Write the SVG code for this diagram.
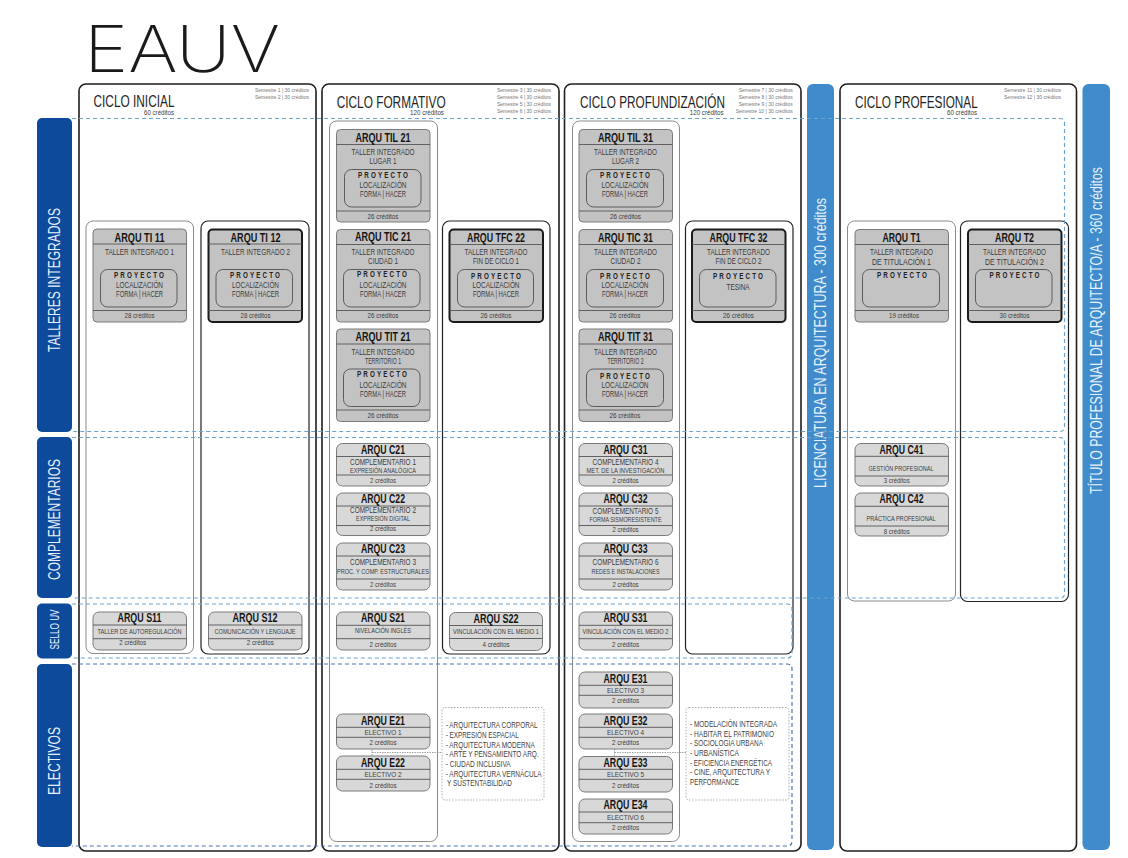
<svg xmlns="http://www.w3.org/2000/svg" width="1128" height="858" viewBox="0 0 1128 858">
<style>
text{font-family:"Liberation Sans Narrow","Liberation Sans",Arial,sans-serif;fill:#3c3c3c}
.m{text-anchor:middle}.e{text-anchor:end}
.panel{fill:#fff;stroke:#1e1e1e;stroke-width:1.6}
.boxl{fill:#fff;stroke:#8a8a8a;stroke-width:1}
.boxd{fill:#fff;stroke:#222;stroke-width:1.2}
.band{fill:#0d4a9b}.bar{fill:#3f8bcb}
.nd{fill:#c4c3c3;stroke:#7a7a7a;stroke-width:1}
.ndk{fill:#c4c3c3;stroke:#1a1a1a;stroke-width:2}
.nl{fill:#d8d8d9;stroke:#7a7a7a;stroke-width:1}
.dv{fill:none;stroke:#555;stroke-width:.9}
.in{fill:none;stroke:#5c5c5c;stroke-width:1}
.note{fill:#fff;stroke:#aaa;stroke-width:1;stroke-dasharray:1.5 1.5}
.dl{fill:none;stroke:#6ba3cf;stroke-width:1.2;stroke-dasharray:4 3}
.dk{fill:none;stroke:#4a76b5;stroke-width:1.2;stroke-dasharray:4 3}
.lk{fill:none;stroke:#8a8a8a;stroke-width:.8;stroke-dasharray:1.5 1}
.t{font-size:12px;font-weight:700;fill:#141414}
.s{font-size:9px}.x{font-size:8px}.c{font-size:8px}
.p{font-size:9px;font-weight:700;fill:#222;letter-spacing:3px}
.h{font-size:17px;fill:#1e1e1e}.hc{font-size:8px}.sm{font-size:5px;fill:#777}
.n{font-size:9px;fill:#444}
.side{font-size:17px;fill:#e8f0fa}
.bt{font-size:16px;fill:#e8f2fb}
.logo{font-family:Inter,"Liberation Sans",sans-serif;font-weight:200;font-size:64px;fill:#1a1a1a}
</style>

<text id="logo" class="logo" x="84" y="72" textLength="196" lengthAdjust="spacingAndGlyphs">EAUV</text>

<g id="ciclo-inicial"><rect class="panel" x="79" y="84" width="237" height="767" rx="7"/>
<text class="h" x="93.5" y="107" textLength="81" lengthAdjust="spacingAndGlyphs">CICLO INICIAL</text>
<text class="hc e" x="174" y="114.7" textLength="30" lengthAdjust="spacingAndGlyphs">60 créditos</text>
<text class="sm e" x="309" y="92" textLength="54" lengthAdjust="spacingAndGlyphs">Semestre 1 | 30 créditos</text>
<text class="sm e" x="309" y="99" textLength="54" lengthAdjust="spacingAndGlyphs">Semestre 2 | 30 créditos</text></g>
<g id="ciclo-formativo"><rect class="panel" x="322" y="84" width="237" height="767" rx="7"/>
<text class="h" x="336.7" y="107.7" textLength="109" lengthAdjust="spacingAndGlyphs">CICLO FORMATIVO</text>
<text class="hc e" x="444" y="114.7" textLength="34" lengthAdjust="spacingAndGlyphs">120 créditos</text>
<text class="sm e" x="551" y="91.7" textLength="54" lengthAdjust="spacingAndGlyphs">Semestre 3 | 30 créditos</text>
<text class="sm e" x="551" y="99" textLength="54" lengthAdjust="spacingAndGlyphs">Semestre 4 | 30 créditos</text>
<text class="sm e" x="551" y="106" textLength="54" lengthAdjust="spacingAndGlyphs">Semestre 5 | 30 créditos</text>
<text class="sm e" x="551" y="113" textLength="54" lengthAdjust="spacingAndGlyphs">Semestre 6 | 30 créditos</text></g>
<g id="ciclo-profundizacion"><rect class="panel" x="564.5" y="84" width="236.5" height="767" rx="7"/>
<text class="h" x="580" y="107.7" textLength="145" lengthAdjust="spacingAndGlyphs">CICLO PROFUNDIZACIÓN</text>
<text class="hc e" x="723.7" y="114.7" textLength="34" lengthAdjust="spacingAndGlyphs">120 créditos</text>
<text class="sm e" x="792.7" y="91.7" textLength="54" lengthAdjust="spacingAndGlyphs">Semestre 7 | 30 créditos</text>
<text class="sm e" x="792.7" y="99" textLength="54" lengthAdjust="spacingAndGlyphs">Semestre 8 | 30 créditos</text>
<text class="sm e" x="792.7" y="106" textLength="54" lengthAdjust="spacingAndGlyphs">Semestre 9 | 30 créditos</text>
<text class="sm e" x="792.7" y="113" textLength="57" lengthAdjust="spacingAndGlyphs">Semestre 10 | 30 créditos</text></g>
<g id="ciclo-profesional"><rect class="panel" x="840" y="84" width="236.5" height="767" rx="7"/>
<text class="h" x="855" y="107.7" textLength="122.7" lengthAdjust="spacingAndGlyphs">CICLO PROFESIONAL</text>
<text class="hc e" x="977" y="114.7" textLength="30" lengthAdjust="spacingAndGlyphs">60 créditos</text>
<text class="sm e" x="1061" y="92" textLength="57" lengthAdjust="spacingAndGlyphs">Semestre 11 | 30 créditos</text>
<text class="sm e" x="1061" y="99" textLength="57" lengthAdjust="spacingAndGlyphs">Semestre 12 | 30 créditos</text></g>

<g id="licenciatura"><rect class="bar" x="807" y="84" width="27" height="766" rx="6"/>
<text class="bt" transform="translate(826 488) rotate(-90)" textLength="290" lengthAdjust="spacingAndGlyphs">LICENCIATURA EN ARQUITECTURA - 300 créditos</text></g>
<g id="titulo"><rect class="bar" x="1082.5" y="84" width="27.5" height="766" rx="6"/>
<text class="bt" transform="translate(1101.5 494) rotate(-90)" textLength="327" lengthAdjust="spacingAndGlyphs">TÍTULO PROFESIONAL DE ARQUITECTO/A - 360 créditos</text></g>

<g id="talleres-integrados"><rect class="band" x="37" y="118" width="35" height="314" rx="5"/>
<text class="side" transform="translate(60 352) rotate(-90)" textLength="144" lengthAdjust="spacingAndGlyphs">TALLERES INTEGRADOS</text></g>
<g id="complementarios"><rect class="band" x="37" y="437" width="35" height="161" rx="5"/>
<text class="side" transform="translate(60 580) rotate(-90)" textLength="121" lengthAdjust="spacingAndGlyphs">COMPLEMENTARIOS</text></g>
<g id="sello-uv"><rect class="band" x="37" y="603.5" width="35" height="55" rx="5"/>
<text class="side" style="font-size:12px" transform="translate(58.5 649.5) rotate(-90)" textLength="40" lengthAdjust="spacingAndGlyphs">SELLO UV</text></g>
<g id="electivos"><rect class="band" x="37" y="664" width="35" height="183" rx="5"/>
<text class="side" transform="translate(60 795) rotate(-90)" textLength="68" lengthAdjust="spacingAndGlyphs">ELECTIVOS</text></g>

<g id="contenedores">
<rect class="boxl" x="86" y="221" width="107.5" height="432.5" rx="7"/>
<rect class="boxd" x="201" y="221" width="108" height="433" rx="7"/>
<rect class="boxl" x="329.5" y="121" width="108" height="720.5" rx="7"/>
<rect class="boxd" x="442.5" y="221" width="107.5" height="433" rx="7"/>
<rect class="boxl" x="572.5" y="121" width="107" height="720.5" rx="7"/>
<rect class="boxd" x="685.5" y="221" width="107.5" height="433" rx="7"/>
<rect class="boxl" x="847.5" y="221" width="108" height="380" rx="7"/>
<rect class="boxd" x="960.5" y="221" width="108" height="380.5" rx="7"/>
</g>

<g id="conectores">
<path class="dl" d="M72 118.500H1060q4.500 0 4.500 4.500V427q0 4.500-4.500 4.500H72"/>
<path class="dl" d="M72 437.500H1060q4.500 0 4.500 4.500V593.500q0 4.500-4.500 4.500H72"/>
<path class="dl" d="M72 604H787q5 0 5 5V653q0 5-5 5H72"/>
<path class="dk" d="M72 664H787q5 0 5 5V841q0 5-5 5H72"/>
<path class="lk" d="M372 749V756M372 752.500H442"/>
<path class="lk" d="M614.500 749V756M614.500 752.500H686"/>
</g>

<g id="arqu-ti-11"><rect class="nd" x="93" y="229" width="93.500" height="93" rx="4"/><path class="dv" d="M93 244H186.500M93 310.500H186.500"/><rect class="in" x="100.500" y="269.500" width="76.500" height="37.500" rx="7"/>
<text class="t m" x="139.500" y="242" textLength="50" lengthAdjust="spacingAndGlyphs">ARQU TI 11</text><text class="s m" x="139.500" y="255" textLength="69" lengthAdjust="spacingAndGlyphs">TALLER INTEGRADO 1</text><text class="p m" x="140" y="277.500" textLength="52" lengthAdjust="spacingAndGlyphs">PROYECTO</text><text class="s m" x="139.500" y="288" textLength="47" lengthAdjust="spacingAndGlyphs">LOCALIZACIÓN</text><text class="s m" x="139.500" y="297" textLength="47" lengthAdjust="spacingAndGlyphs">FORMA | HACER</text><text class="c m" x="139.500" y="318" textLength="30" lengthAdjust="spacingAndGlyphs">28 créditos</text></g>
<g id="arqu-ti-12"><rect class="ndk" x="208.500" y="229.500" width="93.500" height="92.500" rx="4"/><path class="dv" d="M208 244H302M208 310.500H302"/><rect class="in" x="216" y="269.500" width="76.500" height="37.500" rx="7"/>
<text class="t m" x="255.500" y="242" textLength="50" lengthAdjust="spacingAndGlyphs">ARQU TI 12</text><text class="s m" x="255.500" y="255" textLength="69" lengthAdjust="spacingAndGlyphs">TALLER INTEGRADO 2</text><text class="p m" x="256" y="277.500" textLength="52" lengthAdjust="spacingAndGlyphs">PROYECTO</text><text class="s m" x="255.500" y="288" textLength="47" lengthAdjust="spacingAndGlyphs">LOCALIZACIÓN</text><text class="s m" x="255.500" y="297" textLength="47" lengthAdjust="spacingAndGlyphs">FORMA | HACER</text><text class="c m" x="255.500" y="318" textLength="30" lengthAdjust="spacingAndGlyphs">28 créditos</text></g>

<g id="arqu-til-21"><rect class="nd" x="336.500" y="129.500" width="93.500" height="92.500" rx="4"/><path class="dv" d="M336.500 144.500H430M336.500 211H430"/><rect class="in" x="344.500" y="169.500" width="76.500" height="37.500" rx="7"/>
<text class="t m" x="383" y="141.500" textLength="55" lengthAdjust="spacingAndGlyphs">ARQU TIL 21</text><text class="s m" x="383" y="155" textLength="63" lengthAdjust="spacingAndGlyphs">TALLER INTEGRADO</text><text class="s m" x="383" y="164" textLength="27" lengthAdjust="spacingAndGlyphs">LUGAR 1</text><text class="p m" x="384" y="177.500" textLength="52" lengthAdjust="spacingAndGlyphs">PROYECTO</text><text class="s m" x="383" y="188" textLength="47" lengthAdjust="spacingAndGlyphs">LOCALIZACIÓN</text><text class="s m" x="383" y="197" textLength="46" lengthAdjust="spacingAndGlyphs">FORMA | HACER</text><text class="c m" x="383" y="218.500" textLength="31" lengthAdjust="spacingAndGlyphs">26 créditos</text></g>
<g id="arqu-tic-21"><rect class="nd" x="336.500" y="229.500" width="93.500" height="92.500" rx="4"/><path class="dv" d="M336.500 244.500H430M336.500 310.500H430"/><rect class="in" x="343.500" y="269.500" width="76.500" height="37.500" rx="7"/>
<text class="t m" x="383" y="241" textLength="56" lengthAdjust="spacingAndGlyphs">ARQU TIC 21</text><text class="s m" x="383" y="255" textLength="63" lengthAdjust="spacingAndGlyphs">TALLER INTEGRADO</text><text class="s m" x="383" y="264" textLength="30" lengthAdjust="spacingAndGlyphs">CIUDAD 1</text><text class="p m" x="383" y="277" textLength="52" lengthAdjust="spacingAndGlyphs">PROYECTO</text><text class="s m" x="383" y="288" textLength="47" lengthAdjust="spacingAndGlyphs">LOCALIZACIÓN</text><text class="s m" x="383" y="297" textLength="46" lengthAdjust="spacingAndGlyphs">FORMA | HACER</text><text class="c m" x="383" y="318" textLength="31" lengthAdjust="spacingAndGlyphs">26 créditos</text></g>
<g id="arqu-tit-21"><rect class="nd" x="336.500" y="329" width="93.500" height="92.500" rx="4"/><path class="dv" d="M336.500 344H430M336.500 410H430"/><rect class="in" x="343.500" y="369" width="76.500" height="37.500" rx="7"/>
<text class="t m" x="383" y="341" textLength="55" lengthAdjust="spacingAndGlyphs">ARQU TIT 21</text><text class="s m" x="383" y="354.500" textLength="63" lengthAdjust="spacingAndGlyphs">TALLER INTEGRADO</text><text class="s m" x="383" y="363.500" textLength="36" lengthAdjust="spacingAndGlyphs">TERRITORIO 1</text><text class="p m" x="383" y="376.500" textLength="52" lengthAdjust="spacingAndGlyphs">PROYECTO</text><text class="s m" x="383" y="387.500" textLength="47" lengthAdjust="spacingAndGlyphs">LOCALIZACIÓN</text><text class="s m" x="383" y="396.500" textLength="46" lengthAdjust="spacingAndGlyphs">FORMA | HACER</text><text class="c m" x="383" y="418" textLength="31" lengthAdjust="spacingAndGlyphs">26 créditos</text></g>
<g id="arqu-tfc-22"><rect class="ndk" x="449.500" y="229.500" width="93.500" height="92.500" rx="4"/><path class="dv" d="M449.500 244.500H543M449.500 310.500H543"/><rect class="in" x="457.500" y="269.500" width="76" height="37.500" rx="7"/>
<text class="t m" x="496" y="242" textLength="58" lengthAdjust="spacingAndGlyphs">ARQU TFC 22</text><text class="s m" x="496" y="255" textLength="63" lengthAdjust="spacingAndGlyphs">TALLER INTEGRADO</text><text class="s m" x="496" y="264" textLength="46" lengthAdjust="spacingAndGlyphs">FIN DE CICLO 1</text><text class="p m" x="497" y="279" textLength="52" lengthAdjust="spacingAndGlyphs">PROYECTO</text><text class="s m" x="496" y="288" textLength="47" lengthAdjust="spacingAndGlyphs">LOCALIZACIÓN</text><text class="s m" x="496" y="297" textLength="46" lengthAdjust="spacingAndGlyphs">FORMA | HACER</text><text class="c m" x="496" y="318" textLength="31" lengthAdjust="spacingAndGlyphs">26 créditos</text></g>

<g id="arqu-til-31"><rect class="nd" x="579" y="129.500" width="93.500" height="92.500" rx="4"/><path class="dv" d="M579 144.500H672.500M579 211H672.500"/><rect class="in" x="586.500" y="169.500" width="77" height="37.500" rx="7"/>
<text class="t m" x="625.500" y="141.500" textLength="55" lengthAdjust="spacingAndGlyphs">ARQU TIL 31</text><text class="s m" x="625.500" y="155" textLength="63" lengthAdjust="spacingAndGlyphs">TALLER INTEGRADO</text><text class="s m" x="625.500" y="164" textLength="27" lengthAdjust="spacingAndGlyphs">LUGAR 2</text><text class="p m" x="626" y="177.500" textLength="52" lengthAdjust="spacingAndGlyphs">PROYECTO</text><text class="s m" x="625" y="188" textLength="47" lengthAdjust="spacingAndGlyphs">LOCALIZACIÓN</text><text class="s m" x="625" y="197" textLength="46" lengthAdjust="spacingAndGlyphs">FORMA | HACER</text><text class="c m" x="625.500" y="218.500" textLength="31" lengthAdjust="spacingAndGlyphs">26 créditos</text></g>
<g id="arqu-tic-31"><rect class="nd" x="579" y="229.500" width="93.500" height="92.500" rx="4"/><path class="dv" d="M579 244.500H672.500M579 310.500H672.500"/><rect class="in" x="586.500" y="269.500" width="77" height="37.500" rx="7"/>
<text class="t m" x="625.500" y="241.500" textLength="55" lengthAdjust="spacingAndGlyphs">ARQU TIC 31</text><text class="s m" x="625.500" y="255" textLength="63" lengthAdjust="spacingAndGlyphs">TALLER INTEGRADO</text><text class="s m" x="625.500" y="264" textLength="30" lengthAdjust="spacingAndGlyphs">CIUDAD 2</text><text class="p m" x="626" y="279" textLength="52" lengthAdjust="spacingAndGlyphs">PROYECTO</text><text class="s m" x="625" y="288" textLength="47" lengthAdjust="spacingAndGlyphs">LOCALIZACIÓN</text><text class="s m" x="625" y="297" textLength="46" lengthAdjust="spacingAndGlyphs">FORMA | HACER</text><text class="c m" x="625" y="318" textLength="31" lengthAdjust="spacingAndGlyphs">26 créditos</text></g>
<g id="arqu-tit-31"><rect class="nd" x="579" y="329" width="93.500" height="92.500" rx="4"/><path class="dv" d="M579 344H672.500M579 410H672.500"/><rect class="in" x="586.500" y="369" width="77" height="37.500" rx="7"/>
<text class="t m" x="625.500" y="341" textLength="55" lengthAdjust="spacingAndGlyphs">ARQU TIT 31</text><text class="s m" x="625.500" y="354.500" textLength="63" lengthAdjust="spacingAndGlyphs">TALLER INTEGRADO</text><text class="s m" x="625.500" y="363.500" textLength="36" lengthAdjust="spacingAndGlyphs">TERRITORIO 2</text><text class="p m" x="626" y="378.500" textLength="52" lengthAdjust="spacingAndGlyphs">PROYECTO</text><text class="s m" x="625" y="387.500" textLength="47" lengthAdjust="spacingAndGlyphs">LOCALIZACIÓN</text><text class="s m" x="625" y="396.500" textLength="46" lengthAdjust="spacingAndGlyphs">FORMA | HACER</text><text class="c m" x="625" y="418" textLength="31" lengthAdjust="spacingAndGlyphs">26 créditos</text></g>
<g id="arqu-tfc-32"><rect class="ndk" x="692" y="229.500" width="93.500" height="92.500" rx="4"/><path class="dv" d="M692 244.500H785.500M692 310.500H785.500"/><rect class="in" x="699.500" y="269.500" width="76.500" height="37.500" rx="7"/>
<text class="t m" x="738.500" y="242" textLength="58" lengthAdjust="spacingAndGlyphs">ARQU TFC 32</text><text class="s m" x="738.500" y="255" textLength="63" lengthAdjust="spacingAndGlyphs">TALLER INTEGRADO</text><text class="s m" x="738.500" y="264" textLength="46" lengthAdjust="spacingAndGlyphs">FIN DE CICLO 2</text><text class="p m" x="739" y="279" textLength="52" lengthAdjust="spacingAndGlyphs">PROYECTO</text><text class="s m" x="738" y="290" textLength="23" lengthAdjust="spacingAndGlyphs">TESINA</text><text class="c m" x="738.500" y="318" textLength="31" lengthAdjust="spacingAndGlyphs">26 créditos</text></g>

<g id="arqu-t1"><rect class="nd" x="855" y="229.500" width="93.500" height="92.500" rx="4"/><path class="dv" d="M855 244.500H948.500M855 310.500H948.500"/><rect class="in" x="862.500" y="269.500" width="77" height="37.500" rx="7"/>
<text class="t m" x="901.500" y="242" textLength="38" lengthAdjust="spacingAndGlyphs">ARQU T1</text><text class="s m" x="901.500" y="255" textLength="63" lengthAdjust="spacingAndGlyphs">TALLER INTEGRADO</text><text class="s m" x="901.500" y="264.500" textLength="59" lengthAdjust="spacingAndGlyphs">DE TITULACIÓN 1</text><text class="p m" x="903" y="277.500" textLength="52" lengthAdjust="spacingAndGlyphs">PROYECTO</text><text class="c m" x="904" y="318" textLength="30" lengthAdjust="spacingAndGlyphs">19 créditos</text></g>
<g id="arqu-t2"><rect class="ndk" x="968" y="229.500" width="93.500" height="92.500" rx="4"/><path class="dv" d="M968 244.500H1061.500M968 310.500H1061.500"/><rect class="in" x="975.500" y="269.500" width="76.500" height="37.500" rx="7"/>
<text class="t m" x="1014.500" y="242" textLength="39" lengthAdjust="spacingAndGlyphs">ARQU T2</text><text class="s m" x="1014.500" y="255" textLength="63" lengthAdjust="spacingAndGlyphs">TALLER INTEGRADO</text><text class="s m" x="1014.500" y="264.500" textLength="59" lengthAdjust="spacingAndGlyphs">DE TITULACIÓN 2</text><text class="p m" x="1015.500" y="277.500" textLength="52" lengthAdjust="spacingAndGlyphs">PROYECTO</text><text class="c m" x="1014.500" y="318" textLength="30" lengthAdjust="spacingAndGlyphs">30 créditos</text></g>

<g id="arqu-c21"><rect class="nl" x="336.500" y="443.500" width="93.500" height="42.500" rx="6"/><path class="dv" d="M336.500 456.500H430M336.500 475H430"/>
<text class="t m" x="383" y="453.700" textLength="44" lengthAdjust="spacingAndGlyphs">ARQU C21</text><text class="s m" x="383" y="464.500" textLength="66" lengthAdjust="spacingAndGlyphs">COMPLEMENTARIO 1</text><text class="x m" x="383" y="472.500" textLength="66" lengthAdjust="spacingAndGlyphs">EXPRESIÓN ANALÓGICA</text><text class="c m" x="383" y="483" textLength="26" lengthAdjust="spacingAndGlyphs">2 créditos</text></g>
<g id="arqu-c22"><rect class="nl" x="336.500" y="493" width="93.500" height="42.500" rx="6"/><path class="dv" d="M336.500 506H430M336.500 525.500H430"/>
<text class="t m" x="383" y="503.300" textLength="44" lengthAdjust="spacingAndGlyphs">ARQU C22</text><text class="s m" x="383" y="512.500" textLength="66" lengthAdjust="spacingAndGlyphs">COMPLEMENTARIO 2</text><text class="x m" x="383" y="520.700" textLength="54" lengthAdjust="spacingAndGlyphs">EXPRESIÓN DIGITAL</text><text class="c m" x="383" y="531" textLength="26" lengthAdjust="spacingAndGlyphs">2 créditos</text></g>
<g id="arqu-c23"><rect class="nl" x="336.500" y="543" width="93.500" height="47" rx="6"/><path class="dv" d="M336.500 556H430M336.500 579H430"/>
<text class="t m" x="383" y="552.700" textLength="44" lengthAdjust="spacingAndGlyphs">ARQU C23</text><text class="s m" x="383" y="564.700" textLength="66" lengthAdjust="spacingAndGlyphs">COMPLEMENTARIO 3</text><text class="x m" x="383" y="574" textLength="92" lengthAdjust="spacingAndGlyphs">PROC. Y COMP. ESTRUCTURALES</text><text class="c m" x="383" y="586.700" textLength="26" lengthAdjust="spacingAndGlyphs">2 créditos</text></g>
<g id="arqu-c31"><rect class="nl" x="579" y="443.500" width="93.500" height="42.500" rx="6"/><path class="dv" d="M579 456.500H672.500M579 475H672.500"/>
<text class="t m" x="625.500" y="453.700" textLength="44" lengthAdjust="spacingAndGlyphs">ARQU C31</text><text class="s m" x="625.500" y="464.500" textLength="66" lengthAdjust="spacingAndGlyphs">COMPLEMENTARIO 4</text><text class="x m" x="625.500" y="472.500" textLength="78" lengthAdjust="spacingAndGlyphs">MET. DE LA INVESTIGACIÓN</text><text class="c m" x="625.500" y="483" textLength="26" lengthAdjust="spacingAndGlyphs">2 créditos</text></g>
<g id="arqu-c32"><rect class="nl" x="579" y="493" width="93.500" height="42.500" rx="6"/><path class="dv" d="M579 506H672.500M579 525.500H672.500"/>
<text class="t m" x="625.500" y="503.300" textLength="44" lengthAdjust="spacingAndGlyphs">ARQU C32</text><text class="s m" x="625.500" y="514" textLength="66" lengthAdjust="spacingAndGlyphs">COMPLEMENTARIO 5</text><text class="x m" x="625.500" y="522" textLength="72" lengthAdjust="spacingAndGlyphs">FORMA SISMORESISTENTE</text><text class="c m" x="625.500" y="532" textLength="26" lengthAdjust="spacingAndGlyphs">2 créditos</text></g>
<g id="arqu-c33"><rect class="nl" x="579" y="543" width="93.500" height="47" rx="6"/><path class="dv" d="M579 556H672.500M579 579H672.500"/>
<text class="t m" x="625.500" y="552.700" textLength="44" lengthAdjust="spacingAndGlyphs">ARQU C33</text><text class="s m" x="625.500" y="564.700" textLength="66" lengthAdjust="spacingAndGlyphs">COMPLEMENTARIO 6</text><text class="x m" x="625.500" y="574" textLength="68" lengthAdjust="spacingAndGlyphs">REDES E INSTALACIONES</text><text class="c m" x="625.500" y="586.700" textLength="26" lengthAdjust="spacingAndGlyphs">2 créditos</text></g>
<g id="arqu-c41"><rect class="nl" x="855" y="443.500" width="93.500" height="42.500" rx="6"/><path class="dv" d="M855 456.300H948.500M855 476H948.500"/>
<text class="t m" x="901.500" y="453.700" textLength="44" lengthAdjust="spacingAndGlyphs">ARQU C41</text><text class="x m" x="901" y="471.300" textLength="65" lengthAdjust="spacingAndGlyphs">GESTIÓN PROFESIONAL</text><text class="c m" x="896.700" y="483" textLength="26" lengthAdjust="spacingAndGlyphs">3 créditos</text></g>
<g id="arqu-c42"><rect class="nl" x="855" y="493" width="93.500" height="43" rx="6"/><path class="dv" d="M855 506.300H948.500M855 526H948.500"/>
<text class="t m" x="901.500" y="503.300" textLength="44" lengthAdjust="spacingAndGlyphs">ARQU C42</text><text class="x m" x="901" y="521.300" textLength="69" lengthAdjust="spacingAndGlyphs">PRÁCTICA PROFESIONAL</text><text class="c m" x="896.700" y="534" textLength="26" lengthAdjust="spacingAndGlyphs">8 créditos</text></g>

<g id="arqu-s11"><rect class="nl" x="93" y="612" width="93.500" height="38" rx="6"/><path class="dv" d="M93 625H186.500M93 638.700H186.500"/>
<text class="t m" x="139.500" y="622.300" textLength="44" lengthAdjust="spacingAndGlyphs">ARQU S11</text><text class="x m" x="139.500" y="633.700" textLength="84" lengthAdjust="spacingAndGlyphs">TALLER DE AUTOREGULACIÓN</text><text class="c m" x="132.700" y="645" textLength="27" lengthAdjust="spacingAndGlyphs">2 créditos</text></g>
<g id="arqu-s12"><rect class="nl" x="208.500" y="612" width="93.500" height="38" rx="6"/><path class="dv" d="M208.500 625H302M208.500 638.700H302"/>
<text class="t m" x="255" y="622.300" textLength="45" lengthAdjust="spacingAndGlyphs">ARQU S12</text><text class="x m" x="255" y="633.700" textLength="81" lengthAdjust="spacingAndGlyphs">COMUNICACIÓN Y LENGUAJE</text><text class="c m" x="260.300" y="645" textLength="27" lengthAdjust="spacingAndGlyphs">2 créditos</text></g>
<g id="arqu-s21"><rect class="nl" x="336.500" y="612" width="93.500" height="38" rx="6"/><path class="dv" d="M336.500 625.300H430M336.500 638.700H430"/>
<text class="t m" x="383" y="622.300" textLength="44" lengthAdjust="spacingAndGlyphs">ARQU S21</text><text class="x m" x="383" y="633.300" textLength="56" lengthAdjust="spacingAndGlyphs">NIVELACIÓN INGLÉS</text><text class="c m" x="383" y="646.700" textLength="27" lengthAdjust="spacingAndGlyphs">2 créditos</text></g>
<g id="arqu-s22"><rect class="nl" x="449.500" y="612.500" width="93" height="38" rx="6"/><path class="dv" d="M449.500 625.500H542.500M449.500 638.500H542.500"/>
<text class="t m" x="496" y="623" textLength="45" lengthAdjust="spacingAndGlyphs">ARQU S22</text><text class="x m" x="496" y="634" textLength="86" lengthAdjust="spacingAndGlyphs">VINCULACIÓN CON EL MEDIO 1</text><text class="c m" x="496" y="647" textLength="27" lengthAdjust="spacingAndGlyphs">4 créditos</text></g>
<g id="arqu-s31"><rect class="nl" x="579" y="612" width="93.500" height="38" rx="6"/><path class="dv" d="M579 625.300H672.500M579 638.700H672.500"/>
<text class="t m" x="625.500" y="622.300" textLength="44" lengthAdjust="spacingAndGlyphs">ARQU S31</text><text class="x m" x="625.500" y="634" textLength="86" lengthAdjust="spacingAndGlyphs">VINCULACIÓN CON EL MEDIO 2</text><text class="c m" x="625.500" y="646.700" textLength="27" lengthAdjust="spacingAndGlyphs">2 créditos</text></g>

<g id="arqu-e21"><rect class="nl" x="336.500" y="714" width="93.500" height="35" rx="6"/><path class="dv" d="M336.500 727.300H430M336.500 737.300H430"/>
<text class="t m" x="383" y="724.700" textLength="44" lengthAdjust="spacingAndGlyphs">ARQU E21</text><text class="x m" x="383" y="735" textLength="37" lengthAdjust="spacingAndGlyphs">ELECTIVO 1</text><text class="c m" x="383" y="745" textLength="27" lengthAdjust="spacingAndGlyphs">2 créditos</text></g>
<g id="arqu-e22"><rect class="nl" x="336.500" y="756" width="93.500" height="35" rx="6"/><path class="dv" d="M336.500 769.300H430M336.500 779.300H430"/>
<text class="t m" x="383" y="766.700" textLength="44" lengthAdjust="spacingAndGlyphs">ARQU E22</text><text class="x m" x="383" y="777.300" textLength="37" lengthAdjust="spacingAndGlyphs">ELECTIVO 2</text><text class="c m" x="383" y="787.700" textLength="27" lengthAdjust="spacingAndGlyphs">2 créditos</text></g>
<g id="arqu-e31"><rect class="nl" x="579" y="672" width="93.500" height="36" rx="6"/><path class="dv" d="M579 685.300H672.500M579 695.300H672.500"/>
<text class="t m" x="625.500" y="683" textLength="44" lengthAdjust="spacingAndGlyphs">ARQU E31</text><text class="x m" x="625.500" y="693" textLength="37" lengthAdjust="spacingAndGlyphs">ELECTIVO 3</text><text class="c m" x="625.500" y="703" textLength="27" lengthAdjust="spacingAndGlyphs">2 créditos</text></g>
<g id="arqu-e32"><rect class="nl" x="579" y="714" width="93.500" height="35" rx="6"/><path class="dv" d="M579 727.300H672.500M579 737.300H672.500"/>
<text class="t m" x="625.500" y="724.700" textLength="44" lengthAdjust="spacingAndGlyphs">ARQU E32</text><text class="x m" x="625.500" y="735" textLength="37" lengthAdjust="spacingAndGlyphs">ELECTIVO 4</text><text class="c m" x="625.500" y="745" textLength="27" lengthAdjust="spacingAndGlyphs">2 créditos</text></g>
<g id="arqu-e33"><rect class="nl" x="579" y="756.500" width="93.500" height="35.500" rx="6"/><path class="dv" d="M579 769.300H672.500M579 779.300H672.500"/>
<text class="t m" x="625.500" y="767" textLength="44" lengthAdjust="spacingAndGlyphs">ARQU E33</text><text class="x m" x="625.500" y="777.300" textLength="37" lengthAdjust="spacingAndGlyphs">ELECTIVO 5</text><text class="c m" x="625.500" y="787.700" textLength="27" lengthAdjust="spacingAndGlyphs">2 créditos</text></g>
<g id="arqu-e34"><rect class="nl" x="579" y="799" width="93.500" height="35" rx="6"/><path class="dv" d="M579 812H672.500M579 822.700H672.500"/>
<text class="t m" x="625.500" y="809.300" textLength="44" lengthAdjust="spacingAndGlyphs">ARQU E34</text><text class="x m" x="625.500" y="819.700" textLength="37" lengthAdjust="spacingAndGlyphs">ELECTIVO 6</text><text class="c m" x="625.500" y="830" textLength="27" lengthAdjust="spacingAndGlyphs">2 créditos</text></g>

<g id="lista-electivos-1"><rect class="note" x="442" y="707.500" width="102" height="92.500" rx="3"/>
<text class="n" x="445.700" y="728.300" textLength="92" lengthAdjust="spacingAndGlyphs">- ARQUITECTURA CORPORAL</text>
<text class="n" x="445.700" y="738" textLength="73" lengthAdjust="spacingAndGlyphs">- EXPRESIÓN ESPACIAL</text>
<text class="n" x="445.700" y="747.700" textLength="89" lengthAdjust="spacingAndGlyphs">- ARQUITECTURA MODERNA</text>
<text class="n" x="445.700" y="757.400" textLength="93" lengthAdjust="spacingAndGlyphs">- ARTE Y PENSAMIENTO ARQ.</text>
<text class="n" x="445.700" y="767" textLength="65" lengthAdjust="spacingAndGlyphs">- CIUDAD INCLUSIVA</text>
<text class="n" x="445.700" y="776.700" textLength="96" lengthAdjust="spacingAndGlyphs">- ARQUITECTURA VERNÁCULA</text>
<text class="n" x="447" y="786.400" textLength="65" lengthAdjust="spacingAndGlyphs">Y SUSTENTABILIDAD</text></g>
<g id="lista-electivos-2"><rect class="note" x="686" y="707.500" width="103" height="92.500" rx="3"/>
<text class="n" x="690" y="727" textLength="87" lengthAdjust="spacingAndGlyphs">- MODELACIÓN INTEGRADA</text>
<text class="n" x="690" y="736.700" textLength="84" lengthAdjust="spacingAndGlyphs">- HABITAR EL PATRIMONIO</text>
<text class="n" x="690" y="746.400" textLength="73" lengthAdjust="spacingAndGlyphs">- SOCIOLOGÍA URBANA</text>
<text class="n" x="690" y="756" textLength="49" lengthAdjust="spacingAndGlyphs">- URBANÍSTICA</text>
<text class="n" x="690" y="765.700" textLength="82" lengthAdjust="spacingAndGlyphs">- EFICIENCIA ENERGÉTICA</text>
<text class="n" x="690" y="775.400" textLength="80" lengthAdjust="spacingAndGlyphs">- CINE, ARQUITECTURA Y</text>
<text class="n" x="690" y="785" textLength="49" lengthAdjust="spacingAndGlyphs">PERFORMANCE</text></g>
</svg>
